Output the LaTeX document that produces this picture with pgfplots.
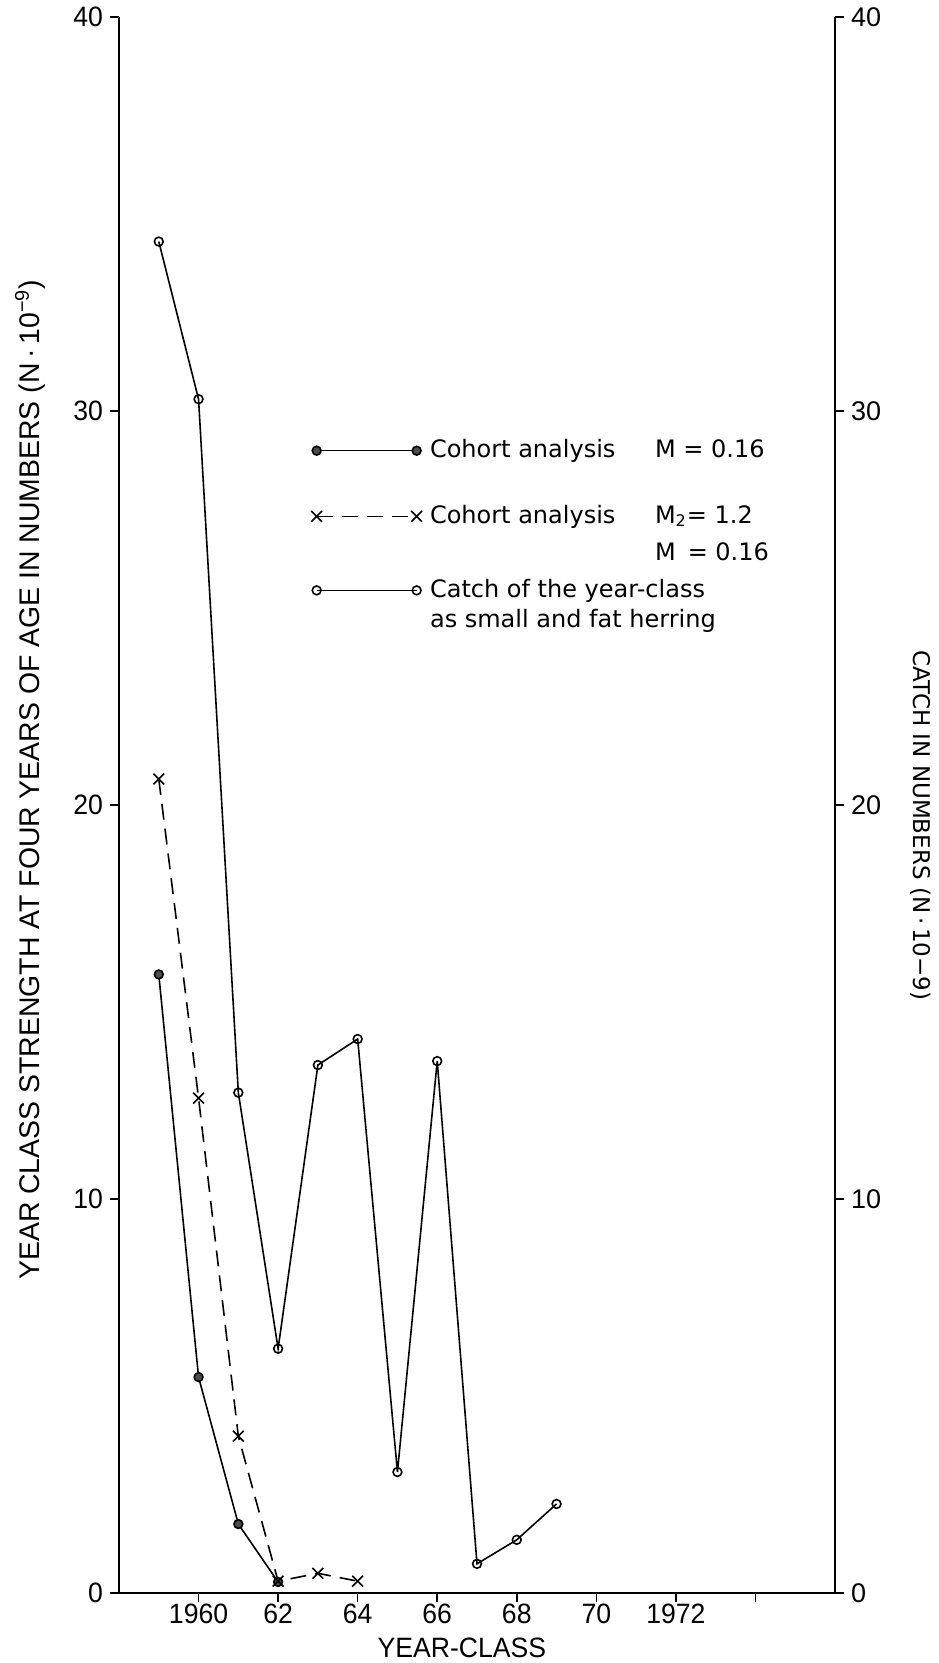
\documentclass[border=0pt]{standalone}
\usepackage{fontspec}
\setmainfont{Liberation Sans}
\newfontfamily\cond[FakeStretch=0.95]{Liberation Sans}
\newfontfamily\dv{DejaVu Sans}
\usepackage{pgfplots}
\pgfplotsset{compat=1.18}
\newcommand\st[1]{\rule[-#1]{0pt}{10pt}}

\pgfplotstableread{
x y
1959 15.7
1960 5.48
1961 1.75
1962 0.28
}\cohortA
\pgfplotstableread{
x y
1959 20.66
1960 12.56
1961 3.98
1962 0.30
1963 0.50
1964 0.30
}\cohortB
\pgfplotstableread{
x y
1959 34.3
1960 30.3
1961 12.7
1962 6.2
1963 13.4
1964 14.06
1965 3.07
1966 13.5
1967 0.74
1968 1.35
1969 2.26
}\catch

\begin{document}
\begin{tikzpicture}
\begin{axis}[name=ax,
  scale only axis, width=358pt, height=788pt,
  xmin=1958, xmax=1976, ymin=0, ymax=40,
  axis x line*=bottom, axis y line*=left,
  axis line style={line width=0.9pt, -},
  tick align=outside, major tick length=4.5pt,
  tick style={black, line width=0.8pt},
  xtick={1960,1962,...,1974},
  xticklabels={1960,62,64,66,68,70,1972,{}},
  ytick={0,10,20,30,40},
  yticklabels={0,10,20,30,40},
  ticklabel style={font=\cond\fontsize{14}{16}\selectfont},
  xticklabel style={yshift=2.5pt},
  xlabel={YEAR-CLASS},
  xlabel style={font=\cond\fontsize{14}{16}\selectfont, at={(rel axis cs:0.479,-0.0349)}, anchor=center},
  ylabel={YEAR CLASS STRENGTH AT FOUR YEARS OF AGE IN NUMBERS (N\,·\,10\textsuperscript{−9})},
  ylabel style={font=\fontsize{14.2}{16}\selectfont, at={(rel axis cs:-0.1243,0.516)}, anchor=center},
  legend cell align=left,
  legend style={at={(rel axis cs:0.268,0.7322)}, anchor=north west, draw=none, fill=none,
    font=\dv\fontsize{12}{15}\selectfont, row sep=0pt, column sep=4pt, inner sep=0pt,
    nodes={inner sep=0pt, text depth=}, cells={anchor=base west}},
  legend image code/.code={\draw[#1] plot coordinates {(0pt,3.5pt) (50pt,3.5pt)};},
]
\addplot[black, line width=0.8pt, mark=*, mark size=2.2pt, mark options={fill=black!70}] table[x=x,y=y] {\cohortA};
\addlegendentry{\st{23.7pt}\makebox[112.5pt][l]{Cohort analysis}M = 0.16}
\addplot[black, line width=0.8pt, dash pattern=on 8pt off 4.5pt, mark=x, mark size=3.8pt, mark options={solid}] table[x=x,y=y] {\cohortB};
\addlegendentry{\st{9.5pt}\makebox[112.5pt][l]{Cohort analysis}M\textsubscript{2}= 1.2}
\addlegendimage{empty legend}
\addlegendentry{\st{9.5pt}\hspace*{112.5pt}M\,\,\,= 0.16}
\addplot[black, line width=0.8pt, mark=o, mark size=2.2pt, mark options={fill=white}] table[x=x,y=y] {\catch};
\addlegendentry{\st{5.7pt}Catch of the year-class}
\addlegendimage{empty legend}
\addlegendentry{\st{3pt}as small and fat herring}
\end{axis}
\begin{axis}[
  scale only axis, width=358pt, height=788pt,
  xmin=1958, xmax=1976, ymin=0, ymax=40,
  axis x line=none, axis y line*=right,
  axis line style={line width=0.9pt, -},
  tick align=outside, major tick length=4.5pt,
  tick style={black, line width=0.8pt},
  ytick={0,10,20,30,40},
  yticklabels={0,10,20,30,40},
  ticklabel style={font=\fontsize{13.5}{16}\selectfont},
  ylabel={CATCH IN NUMBERS (N\,·\,10−9)},
  ylabel style={font=\dv\fontsize{11.5}{14}\selectfont, at={(rel axis cs:1.120,0.487)}, anchor=center, rotate=180},
]
\end{axis}
\pgfresetboundingbox
\path ([shift={(-59.5pt,-35pt)}]ax.south west) rectangle ([shift={(51.5pt,8.5pt)}]ax.north east);
\end{tikzpicture}
\end{document}
